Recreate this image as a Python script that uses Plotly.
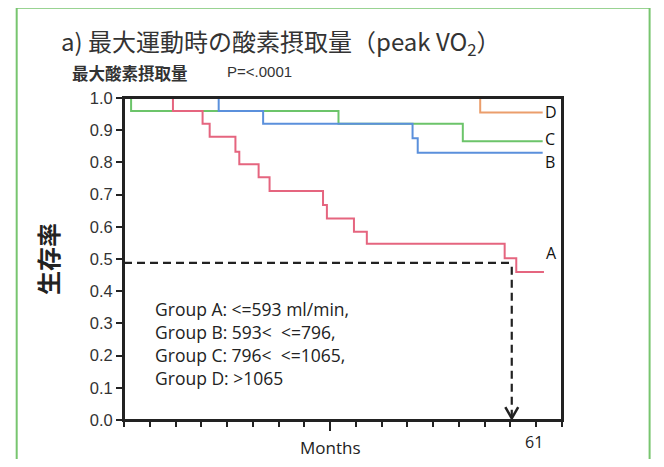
import plotly.graph_objects as go

# ---- data ----
group_names = ["A", "B", "C", "D"]
a_months = [0, 7.6, 12.2, 13.3, 17.3, 17.9, 20.9, 22.6, 30.9, 31.5, 35.7, 37.7, 59.1, 60.9, 65.2]
a_surv = [1.0, 0.96, 0.92, 0.88, 0.833, 0.794, 0.754, 0.711, 0.668, 0.626, 0.585, 0.547, 0.502, 0.46, 0.46]
b_months = [0, 14.7, 21.6, 44.8, 45.6, 65.0]
b_surv = [1.0, 0.96, 0.92, 0.875, 0.83, 0.83]
c_months = [0, 1.1, 33.3, 52.6, 65.0]
c_surv = [1.0, 0.96, 0.92, 0.866, 0.866]
d_months = [0, 55.3, 65.0]
d_surv = [1.0, 0.955, 0.955]

median_level = 0.488
median_month = 60.2

y_ticks = [0.0, 0.1, 0.2, 0.3, 0.4, 0.5, 0.6, 0.7, 0.8, 0.9, 1.0]
x_range = [0, 68]
legend_lines = [
    "Group A: <=593 ml/min,",
    "Group B: 593<  <=796,",
    "Group C: 796<  <=1065,",
    "Group D: >1065",
]

colors = {"A": "#e5657f", "B": "#5b90dc", "C": "#6cc46a", "D": "#eb9e6c"}
series = {
    "A": (a_months, a_surv),
    "B": (b_months, b_surv),
    "C": (c_months, c_surv),
    "D": (d_months, d_surv),
}
label_y = {"A": 0.52, "B": 0.802, "C": 0.872, "D": 0.955}

fig = go.Figure()

for g in ["D", "C", "B", "A"]:
    xs, ys = series[g]
    fig.add_trace(go.Scatter(x=xs, y=ys, mode="lines", line=dict(color=colors[g], width=2, shape="hv"),
                             showlegend=False, hoverinfo="skip"))

# median dashed guide
fig.add_trace(go.Scatter(x=[0, median_month - 0.4, median_month, median_month],
                         y=[median_level, median_level, median_level - 0.01, 0.0],
                         mode="lines", line=dict(color="#222222", width=2.2, dash="8px,5px"),
                         showlegend=False, hoverinfo="skip", cliponaxis=False))
fig.add_trace(go.Scatter(x=[median_month - 1.0, median_month, median_month + 1.0],
                         y=[0.04, 0.005, 0.04], mode="lines",
                         line=dict(color="#222222", width=2.5), showlegend=False, hoverinfo="skip"))

for g in group_names:
    fig.add_annotation(x=series[g][0][-1], y=label_y[g], text=g, showarrow=False, xanchor="left",
                       yanchor="middle", font=dict(family="Open Sans", size=16, color="#111"))

for i, t in enumerate(legend_lines):
    fig.add_annotation(x=0.066, y=0.345 - i * 0.072, xref="paper", yref="paper", text=t, showarrow=False,
                       xanchor="left", yanchor="middle", font=dict(family="Open Sans", size=17.5, color="#222"))

# titles
fig.add_annotation(x=-0.148, y=1.175, xref="paper", yref="paper", xanchor="left", yanchor="middle",
                   text="a) 最大運動時の酸素摂取量（peak VO<sub>2</sub>）", showarrow=False,
                   font=dict(family="Noto Sans CJK JP", size=24, color="#333"))
fig.add_annotation(x=-0.124, y=1.078, xref="paper", yref="paper", xanchor="left", yanchor="middle",
                   text="<b>最大酸素摂取量</b>", showarrow=False,
                   font=dict(family="Noto Sans CJK JP", size=16.5, color="#333"))
fig.add_annotation(x=0.23, y=1.083, xref="paper", yref="paper", xanchor="left", yanchor="middle",
                   text="P=<.0001", showarrow=False,
                   font=dict(family="Liberation Sans", size=15, color="#333"))
fig.add_annotation(x=-0.176, y=0.5, xref="paper", yref="paper", textangle=-90,
                   xanchor="center", yanchor="middle",
                   text="<b>生存率</b>", showarrow=False,
                   font=dict(family="Noto Sans CJK JP", size=24, color="#222"))
fig.add_annotation(x=32, y=0, yref="paper", yanchor="middle", yshift=-27, text="Months", showarrow=False,
                   font=dict(family="Open Sans", size=17, color="#222"))
fig.add_annotation(x=61, y=0, xshift=17, yref="paper", yanchor="middle", yshift=-22, text="61",
                   showarrow=False, font=dict(family="Open Sans", size=16, color="#222"))

# page border
fig.add_shape(type="rect", xref="paper", yref="paper", x0=-0.245, x1=1.2, y0=-0.3, y1=1.28,
              line=dict(color="#78c56f", width=2), layer="below")
# plot frame on top of the curves
fig.add_shape(type="rect", xref="paper", yref="paper", x0=0, x1=1, y0=0, y1=1,
              line=dict(color="#222", width=2), layer="above")

fig.update_xaxes(range=x_range, showline=True, linecolor="#222", linewidth=2, mirror=True,
                 tickvals=[32], ticktext=[""], ticks="outside", ticklen=9, tickwidth=1.5, tickcolor="#222",
                 minor=dict(dtick=4, tick0=0, ticks="outside", ticklen=5, tickwidth=1.5, tickcolor="#222"),
                 showgrid=False, zeroline=False, layer="above traces")
fig.update_yaxes(range=[0, 1.0], showline=True, linecolor="#222", linewidth=2, mirror=True,
                 tickvals=y_ticks, tickformat=".1f", ticks="outside", ticklen=6, tickwidth=1.5, tickcolor="#222",
                 tickfont=dict(family="Liberation Sans", size=16.5, color="#333"),
                 showgrid=False, zeroline=False, layer="above traces")

fig.update_layout(width=648, height=451, margin=dict(l=116, r=94, t=90, b=39),
                  plot_bgcolor="white", paper_bgcolor="white", showlegend=False)

fig.write_html("out.html")
